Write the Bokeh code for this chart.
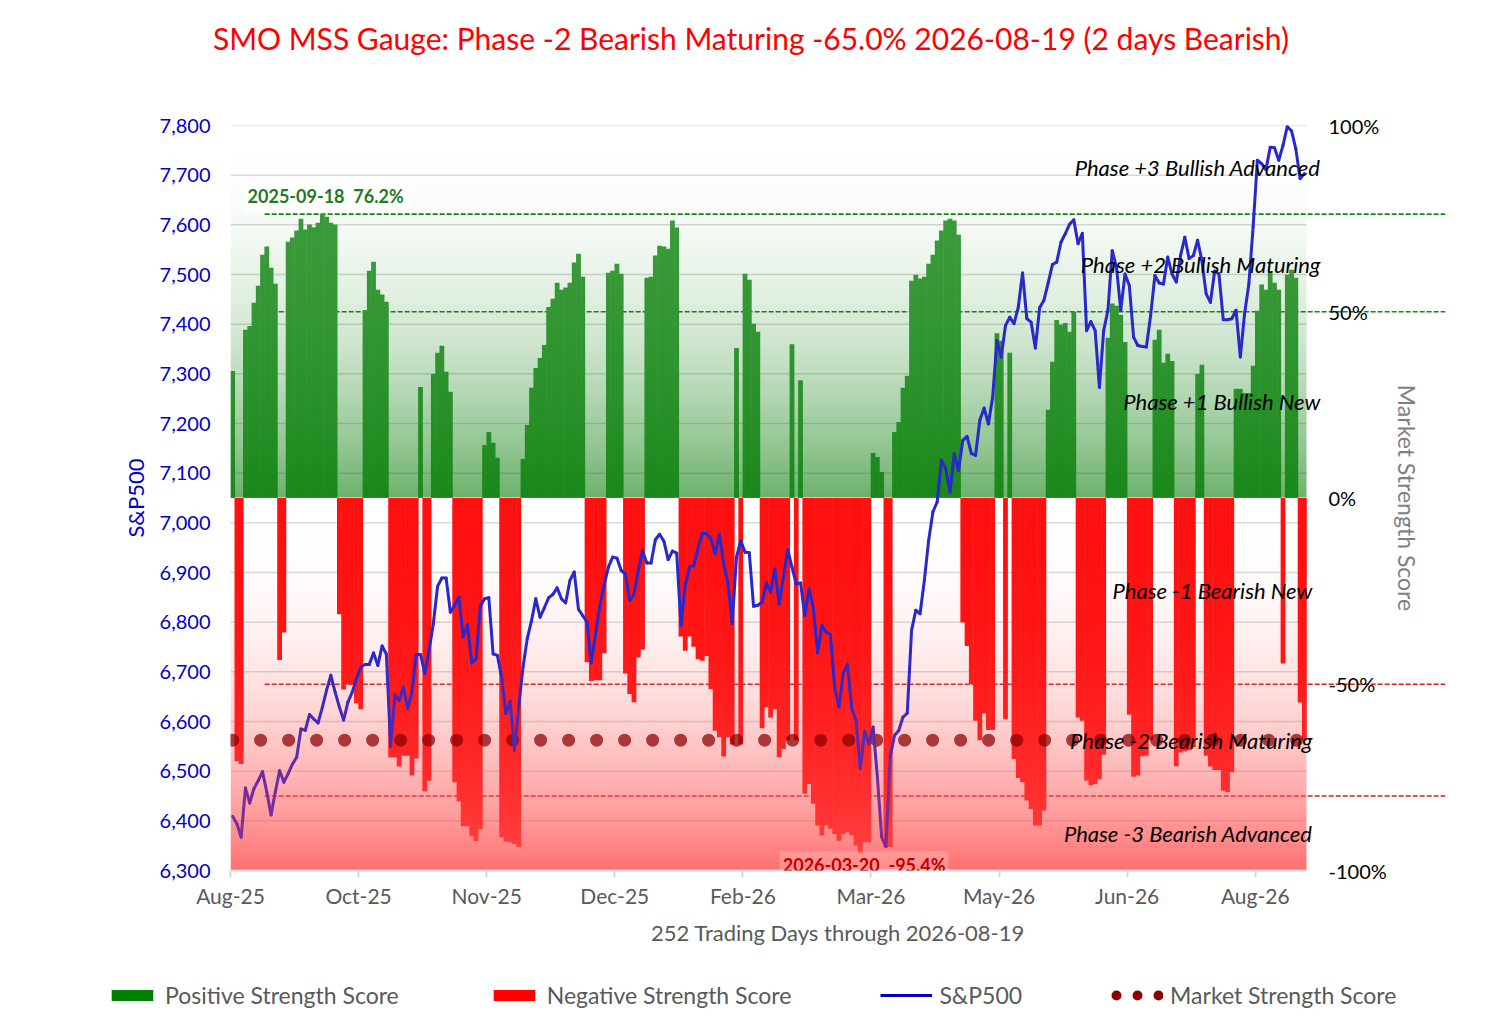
import numpy as np
import pandas as pd
from bokeh.plotting import figure
from bokeh.layouts import column
from bokeh.models import (Range1d, LinearAxis, FixedTicker, NumeralTickFormatter,
                          Label, Legend, LegendItem, Div)
from bokeh.embed import file_html
from bokeh.resources import INLINE

FONT = "Lato"

# trading calendar (NYSE holidays in the window)
holidays = ["2025-09-01", "2025-11-27", "2025-12-25", "2026-01-01", "2026-01-19",
            "2026-02-16", "2026-04-03", "2026-05-25", "2026-06-19", "2026-07-03"]
dates = pd.bdate_range("2025-08-19", "2026-08-19", freq="C", holidays=holidays)

# Market Strength Score (%) per trading day
score = [
    34.1, -70.7, -71.4, 45.2, 46.2, 52.4, 57.0, 65.3, 67.5, 61.8,
    57.5, -43.5, -36.1, 68.8, 69.9, 71.8, 75.0, 72.1, 73.4, 72.7,
    73.9, 76.2, 75.5, 73.9, 73.4, -31.2, -51.4, -50.1, -50.1, -55.1,
    -56.7, 50.5, 61.0, 63.4, 55.9, 54.6, 52.7, -69.6, -69.6, -72.1,
    -69.2, -69.2, -74.5, -69.9, 29.8, -78.8, -75.9, 33.3, 39.0, 40.9,
    33.9, 28.5, -76.3, -81.4, -88.1, -88.1, -90.8, -92.1, -88.9, 14.2,
    17.7, 14.8, 10.8, -91.1, -92.2, -92.4, -92.9, -93.7, 10.5, 19.6,
    29.6, 34.9, 37.6, 41.1, 51.3, 53.5, 57.8, 55.9, 56.5, 57.8,
    63.2, 65.6, 59.4, -44.1, -49.1, -48.9, -48.9, -41.7, 60.5, 61.0,
    62.9, 60.2, -47.1, -52.6, -54.8, -42.8, -40.7, 59.1, 59.4, 65.1,
    67.7, 67.5, 66.9, 74.5, 72.6, -37.2, -41.0, -37.2, -39.9, -43.3,
    -43.7, -42.4, -51.3, -62.5, -64.2, -69.4, -64.2, -66.2, 40.3, -66.2,
    60.2, 58.6, 46.8, 44.6, -61.8, -56.2, -58.9, -56.7, -69.6, -67.4,
    -65.1, 41.3, -65.1, 31.6, -79.4, -76.8, -82.1, -87.9, -90.6, -87.9,
    -88.8, -90.2, -92.0, -90.2, -89.7, -90.6, -93.3, -95.4, -92.4, -92.4,
    12.1, 11.0, 7.0, -93.7, -93.7, 17.7, 20.4, 29.6, 32.8, 58.3,
    59.9, 58.9, 59.4, 62.9, 65.3, 69.1, 71.8, 74.5, 75.0, 74.5,
    70.7, -33.4, -39.7, -50.0, -59.8, -65.0, -57.8, -62.3, -62.3, 44.2,
    42.2, -59.4, 39.0, -70.1, -75.2, -76.3, -81.2, -83.5, -87.9, -87.9,
    -83.9, 23.7, 36.6, 47.8, 46.5, 47.0, 44.6, 50.0, -58.9, -59.8,
    -75.9, -77.1, -76.8, -75.5, -68.9, 43.0, 52.2, 51.6, 49.2, 41.9,
    -58.2, -74.8, -74.5, -69.3, -69.2, -65.0, 42.5, 45.2, 36.3, 38.7,
    36.8, -72.0, -68.3, -68.0, -67.7, -66.9, 33.3, 35.8, -69.2, -72.1,
    -73.0, -73.0, -78.6, -79.0, -73.6, 29.3, 29.3, 28.2, 28.2, 35.5,
    50.3, 57.3, 55.9, 60.8, 57.8, 55.9, -44.4, 59.9, 61.3, 59.1,
    -54.9, -65.0,
]

# S&P500 close per trading day
spx = [
    6409, 6394, 6367, 6466, 6436, 6465, 6481, 6499, 6458, 6412,
    6458, 6501, 6478, 6495, 6514, 6528, 6585, 6582, 6614, 6605,
    6597, 6628, 6663, 6693, 6659, 6629, 6603, 6639, 6659, 6686,
    6709, 6715, 6715, 6738, 6713, 6752, 6736, 6550, 6654, 6642,
    6669, 6626, 6659, 6735, 6735, 6697, 6743, 6797, 6872, 6889,
    6889, 6820, 6834, 6850, 6770, 6795, 6718, 6726, 6832, 6847,
    6849, 6736, 6733, 6689, 6616, 6641, 6542, 6629, 6709, 6767,
    6803, 6847, 6810, 6829, 6849, 6856, 6869, 6847, 6839, 6884,
    6901, 6826, 6813, 6800, 6718, 6777, 6834, 6874, 6911, 6931,
    6929, 6904, 6897, 6844, 6856, 6904, 6944, 6919, 6919, 6966,
    6977, 6963, 6926, 6943, 6939, 6793, 6874, 6911, 6914, 6948,
    6979, 6978, 6968, 6938, 6976, 6918, 6879, 6797, 6931, 6964,
    6941, 6940, 6832, 6834, 6840, 6879, 6860, 6907, 6837, 6891,
    6946, 6911, 6877, 6879, 6813, 6867, 6830, 6738, 6793, 6780,
    6775, 6669, 6629, 6697, 6715, 6626, 6602, 6505, 6581, 6555,
    6589, 6488, 6367, 6348, 6528, 6572, 6582, 6609, 6617, 6783,
    6824, 6817, 6884, 6964, 7022, 7042, 7126, 7109, 7062, 7139,
    7105, 7166, 7174, 7140, 7136, 7207, 7231, 7199, 7253, 7367,
    7334, 7397, 7414, 7401, 7434, 7503, 7411, 7404, 7352, 7433,
    7448, 7483, 7520, 7525, 7565, 7582, 7601, 7610, 7562, 7583,
    7387, 7405, 7387, 7273, 7387, 7428, 7548, 7515, 7428, 7501,
    7478, 7374, 7357, 7355, 7354, 7418, 7498, 7483, 7481, 7535,
    7501, 7485, 7538, 7575, 7532, 7538, 7569, 7528, 7461, 7444,
    7507, 7501, 7409, 7409, 7411, 7428, 7334, 7421, 7481, 7596,
    7730, 7723, 7711, 7756, 7755, 7730, 7760, 7798, 7789, 7753,
    7693, 7703,
]

# threshold lines (score %)
bull_levels = [50.0]
bear_levels = [-50.0, -80.0]

phase_names = ["Phase +3 Bullish Advanced", "Phase +2 Bullish Maturing", "Phase +1 Bullish New",
               "Phase -1 Bearish New", "Phase -2 Bearish Maturing", "Phase -3 Bearish Advanced"]

n = len(score)
sc = np.array(score)
px = np.array(spx, dtype=float)
xc = np.arange(n) + 0.5
ipk = int(np.argmax(sc))
itr = int(np.argmin(sc))
cur = sc[-1]

PAGE_W = 1502

# ---- title
head = Div(text="SMO MSS Gauge: Phase -2 Bearish Maturing %.1f%% %s (2 days Bearish)"
           % (cur, dates[-1].strftime("%Y-%m-%d")),
           width=PAGE_W, height=75, margin=0, align="start",
           styles={"font-family": FONT, "font-size": "30px", "color": "#ff0000",
                   "text-align": "center", "line-height": "76px", "white-space": "nowrap"})

# ---- main chart; frame runs past the last bar so threshold lines and phase notes overhang
FW = 1215
x_end = n * FW / 1076

p = figure(frame_width=FW, frame_height=745, x_range=Range1d(0, x_end),
           y_range=Range1d(6300, 7800), output_backend="svg", toolbar_location=None, title=None,
           min_border_left=230, min_border_right=50, min_border_top=50, min_border_bottom=80,
           align="start")
p.extra_y_ranges = {"score": Range1d(-100, 100)}
p.outline_line_color = None
p.background_fill_color = "white"

ticks_l = list(range(6300, 7801, 100))

# horizontal grid, only across the bars
p.segment(x0=0, x1=n, y0=ticks_l[1:], y1=ticks_l[1:], line_color="#d9d9d9", line_width=1.5)

# reference lines (under the bars)
green_lv = [sc[ipk]] + bull_levels
ref_lv = green_lv + bear_levels
ref_col = ["#138a13"] * len(green_lv) + ["#d02020"] * len(bear_levels)
p.segment(x0=8, x1=x_end, y0=ref_lv, y1=ref_lv, y_range_name="score", line_color=ref_col,
          line_width=1.6, line_dash="5 2")

# bars
pos = sc > 0
p.vbar(x=xc[pos], top=sc[pos], bottom=0, width=1.12, y_range_name="score",
       fill_color="#3c9c3c", line_color=None)
p.vbar(x=xc[~pos], top=0, bottom=sc[~pos], width=1.12, y_range_name="score",
       fill_color="#ff1010", line_color=None)

# gradient wash over the bar area
rows = 745
s = -100 + (np.arange(rows) + 0.5) * 200 / rows
rgba = np.zeros((rows, 2, 4), dtype=np.uint8)
up = s > 0
a_up = 0.58 * (1 - s / 100) ** 2
a_dn = 0.82 * (np.abs(s) / 100) ** 2.2
rgba[up, :, 0], rgba[up, :, 1], rgba[up, :, 2] = 0, 120, 0
rgba[up, :, 3] = (a_up[up] * 255)[:, None]
rgba[~up, :, 0], rgba[~up, :, 1], rgba[~up, :, 2] = 255, 80, 80
rgba[~up, :, 3] = (a_dn[~up] * 255)[:, None]
img = rgba.view(np.uint32).reshape(rows, 2)
p.image_rgba(image=[img], x=0, y=-100, dw=n, dh=200, y_range_name="score")

# current market strength score, dotted
p.line(xc, np.full(n, cur), y_range_name="score", line_color="#8b0000", line_alpha=0.72,
       line_width=13, line_dash="0 28", line_cap="round")

# S&P500 line, colour shifts toward purple at low levels
ym = (px[:-1] + px[1:]) / 2
t = np.clip((6720 - ym) / 300, 0, 1)
blue = np.array([40, 40, 205])
purple = np.array([125, 45, 155])
cols = ["#%02x%02x%02x" % tuple(int(v) for v in blue * (1 - k) + purple * k) for k in t]
p.segment(x0=xc[:-1], y0=px[:-1], x1=xc[1:], y1=px[1:], line_color=cols,
          line_width=3, line_cap="round", line_join="round")

# axes
p.xgrid.visible = False
p.ygrid.visible = False
p.yaxis.ticker = FixedTicker(ticks=ticks_l)
p.yaxis.formatter = NumeralTickFormatter(format="0,0")
p.yaxis.axis_line_color = None
p.yaxis.major_tick_line_color = None
p.yaxis.minor_tick_line_color = None
p.yaxis.major_tick_out = 0
p.yaxis.major_label_standoff = 20
p.yaxis.major_label_text_color = "#0000cc"
p.yaxis.major_label_text_font = FONT
p.yaxis.major_label_text_font_size = "20px"
p.yaxis.axis_label = "S&P500"
p.yaxis.axis_label_text_color = "#0000cc"
p.yaxis.axis_label_text_font = FONT
p.yaxis.axis_label_text_font_size = "22px"
p.yaxis.axis_label_text_font_style = "normal"
p.yaxis.axis_label_standoff = 8

ry = LinearAxis(y_range_name="score", ticker=FixedTicker(ticks=[-100, -50, 0, 50, 100]))
ry.major_label_overrides = {v: "%d%%" % v for v in [-100, -50, 0, 50, 100]}
ry.axis_line_color = None
ry.major_tick_line_color = None
ry.minor_tick_line_color = None
ry.major_tick_out = 0
ry.major_tick_in = 0
ry.major_label_standoff = -117
ry.major_label_text_color = "black"
ry.major_label_text_font = FONT
ry.major_label_text_font_size = "20px"
ry.axis_label = "Market Strength Score"
ry.axis_label_text_color = "#7f7f7f"
ry.axis_label_text_font = FONT
ry.axis_label_text_font_size = "23px"
ry.axis_label_text_font_style = "normal"
ry.axis_label_standoff = 3
p.add_layout(ry, "right")

xt = list(range(0, n, 30))
p.xaxis.ticker = FixedTicker(ticks=xt)
p.xaxis.bounds = (0, n)
p.xaxis.major_label_overrides = {v: dates[v].strftime("%b-%y") for v in xt}
p.xaxis.axis_line_color = "#d9d9d9"
p.xaxis.axis_line_width = 2
p.xaxis.major_tick_line_color = "#d9d9d9"
p.xaxis.major_tick_line_width = 2
p.xaxis.major_tick_in = 0
p.xaxis.major_tick_out = 7
p.xaxis.minor_tick_line_color = None
p.xaxis.major_label_standoff = 5
p.xaxis.major_label_text_color = "#595959"
p.xaxis.major_label_text_font = FONT
p.xaxis.major_label_text_font_size = "21px"
p.xaxis.axis_label = "%d Trading Days through %s" % (n, dates[-1].strftime("%Y-%m-%d"))
p.xaxis.axis_label_text_color = "#595959"
p.xaxis.axis_label_text_font = FONT
p.xaxis.axis_label_text_font_size = "22px"
p.xaxis.axis_label_text_font_style = "normal"
p.xaxis.axis_label_standoff = 8

# notes
p.add_layout(Label(x=2.6, y=sc[ipk] + 5, y_range_name="score", text_baseline="middle",
                   text="%s\u00a0 %.1f%%" % (dates[ipk].strftime("%Y-%m-%d"), sc[ipk]),
                   text_color="#237a23", text_font=FONT, text_font_size="18px",
                   text_font_style="bold", background_fill_color="white",
                   background_fill_alpha=0.92, padding=6))
p.add_layout(Label(x=itr + 1.4, y=-98.6, y_range_name="score", text_align="center",
                   text_baseline="middle",
                   text="%s\u00a0 %.1f%%" % (dates[itr].strftime("%Y-%m-%d"), sc[itr]),
                   text_color="#c00000", text_font=FONT, text_font_size="18px",
                   text_font_style="bold", background_fill_color="white",
                   background_fill_alpha=0.2, padding=3))
phase_y = [88.6, 62.8, 25.8, -24.7, -65.0, -90.2]
for k, (name, yy) in enumerate(zip(phase_names, phase_y)):
    p.add_layout(Label(x=n, x_offset=14 if k < 3 else 6, y=yy, y_range_name="score",
                       text=name, text_align="right", text_baseline="middle",
                       text_color="black", text_font=FONT, text_font_size="22px",
                       text_font_style="italic"))

# ---- legend strip (proxy glyphs sit off-range)
foot = figure(width=PAGE_W, height=80, x_range=Range1d(0, 1), y_range=Range1d(0, 1),
              output_backend="svg", toolbar_location=None, min_border=0, align="start",
              x_axis_location=None, y_axis_location=None)
foot.grid.visible = False
foot.outline_line_color = None
leg_x = -124
if "frame_align" in foot.properties():
    foot.frame_align = False
    leg_x = 106
lg_pos = foot.vbar(x=[5], top=[5], width=1, fill_color="#008000", line_color=None)
lg_neg = foot.vbar(x=[5], top=[5], width=1, fill_color="#ff0000", line_color=None)
lg_spx = foot.line(x=[5, 6], y=[5, 5], line_color="#0000c0", line_width=3)
lg_mss = foot.line(x=[5, 6], y=[5, 5], line_color="#8b0000", line_width=10, line_dash="0 21",
                   line_dash_offset=-5, line_cap="round")
leg = Legend(items=[LegendItem(label="Positive Strength Score", renderers=[lg_pos]),
                    LegendItem(label="Negative Strength Score", renderers=[lg_neg]),
                    LegendItem(label="S&P500", renderers=[lg_spx]),
                    LegendItem(label="Market Strength Score", renderers=[lg_mss])],
             orientation="horizontal", location=(leg_x, 21), spacing=89,
             glyph_width=52, glyph_height=14, label_standoff=7,
             label_text_font=FONT, label_text_font_size="23px", label_text_color="#595959",
             border_line_color=None, background_fill_alpha=0, margin=0, padding=6)
foot.add_layout(leg)

layout = column(head, p, foot, spacing=0, align="start")
open("out.html", "w").write(file_html(layout, INLINE))
